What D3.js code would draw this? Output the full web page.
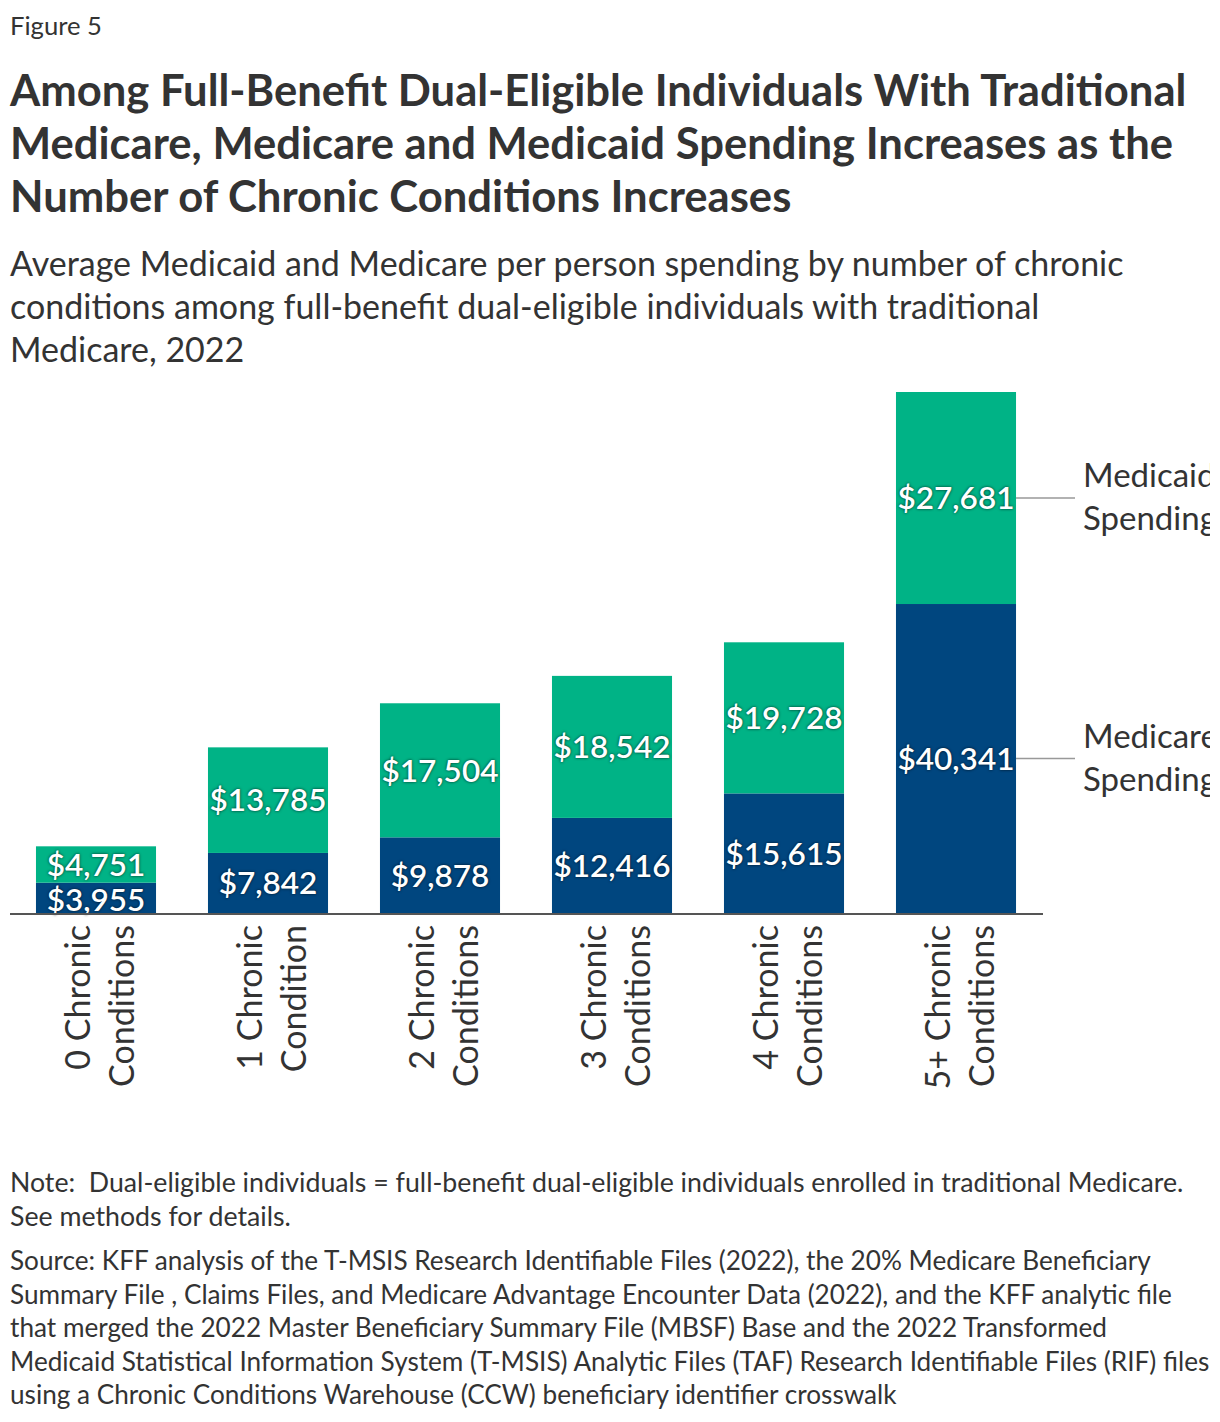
<!DOCTYPE html>
<html>
<head>
<meta charset="utf-8">
<script src="https://cdn.jsdelivr.net/npm/d3@7"></script>
<style>
  body { margin: 0; background: #fff; }
  svg text { font-family: "Source Sans Pro", Lato, "Open Sans", sans-serif; fill: #333; white-space: pre; }
</style>
</head>
<body>
<div id="chart-area"></div>
<script>
// datos del grafico
const categorias = [
  ["0 Chronic", "Conditions"],
  ["1 Chronic", "Condition"],
  ["2 Chronic", "Conditions"],
  ["3 Chronic", "Conditions"],
  ["4 Chronic", "Conditions"],
  ["5+ Chronic", "Conditions"]
]
const medicare = [3955, 7842, 9878, 12416, 15615, 40341]
const medicaid = [4751, 13785, 17504, 18542, 19728, 27681]
const series = ["Medicare Spending", "Medicaid Spending"]

const titulo = [
  "Among Full-Benefit Dual-Eligible Individuals With Traditional",
  "Medicare, Medicare and Medicaid Spending Increases as the",
  "Number of Chronic Conditions Increases"
]
const subtitulo = [
  "Average Medicaid and Medicare per person spending by number of chronic",
  "conditions among full-benefit dual-eligible individuals with traditional",
  "Medicare, 2022"
]
const nota = [
  "Note:  Dual-eligible individuals = full-benefit dual-eligible individuals enrolled in traditional Medicare.",
  "See methods for details."
]
const fuente = [
  "Source: KFF analysis of the T-MSIS Research Identifiable Files (2022), the 20% Medicare Beneficiary",
  "Summary File , Claims Files, and Medicare Advantage Encounter Data (2022), and the KFF analytic file",
  "that merged the 2022 Master Beneficiary Summary File (MBSF) Base and the 2022 Transformed",
  "Medicaid Statistical Information System (T-MSIS) Analytic Files (TAF) Research Identifiable Files (RIF) files",
  "using a Chronic Conditions Warehouse (CCW) beneficiary identifier crosswalk"
]

const width = 1220, height = 1422
const colorMedicare = "#00467f", colorMedicaid = "#00b386"

const root = d3.select("#chart-area").append("svg")
    .attr("width", width)
    .attr("height", height)

// el original corta todo a la derecha
root.append("clipPath").attr("id", "corte")
  .append("rect").attr("x", 0).attr("y", 0).attr("width", 1210).attr("height", height)

const svg = root.append("g").attr("clip-path", "url(#corte)")

// bloque de texto, ajusta el tamaño a un ancho objetivo
function bloque(lines, x, y0, lh, size, weight, refIdx, refWidth) {
  const t = svg.append("g").selectAll("text")
    .data(lines).join("text")
      .attr("x", x)
      .attr("y", (d, i) => y0 + i * lh)
      .attr("font-size", size)
      .attr("font-weight", weight)
      .text(d => d)
  if (refWidth) {
    const w = t.nodes()[refIdx].getComputedTextLength()
    t.attr("font-size", size * refWidth / w)
  }
  return t
}

bloque(["Figure 5"], 10, 35, 0, 24, 400, 0, 92)
bloque(titulo, 10, 106, 53, 38, 700, 0, 1177)
bloque(subtitulo, 10, 276, 43, 30, 400, 0, 1114)
bloque(nota, 10, 1192, 34, 24, 400, 0, 1174)
bloque(fuente, 10, 1270, 33.6, 24, 400, 0, 1141)

// escalas
const baseY = 913
const totales = medicare.map((d, i) => d + medicaid[i])

const x = d3.scaleBand()
    .domain(d3.range(categorias.length))
    .range([10, 1042])
    .paddingInner(0.302)
    .paddingOuter(0.151)

const y = d3.scaleLinear()
    .domain([0, d3.max(totales)])
    .range([baseY, 392])

const datos = medicare.map((d, i) => ({ i: i, medicare: d, medicaid: medicaid[i] }))
const stack = d3.stack().keys(["medicare", "medicaid"])(datos)
const colores = [colorMedicare, colorMedicaid]

const barras = svg.append("g")
stack.forEach((capa, k) => {
  barras.append("g")
      .attr("fill", colores[k])
    .selectAll("rect")
    .data(capa)
    .join("rect")
      .attr("x", d => x(d.data.i))
      .attr("y", d => y(d[1]))
      .attr("width", x.bandwidth())
      .attr("height", d => y(d[0]) - y(d[1]))
})

// etiquetas de valor
const fmt = d3.format("$,")
stack.forEach((capa, k) => {
  svg.append("g").selectAll("text")
    .data(capa)
    .join("text")
      .attr("x", d => x(d.data.i) + x.bandwidth() / 2)
      .attr("y", d => (y(d[0]) + y(d[1])) / 2 + (k == 0 && d.data.i == 0 ? 2 : 0))
      .attr("dy", "0.36em")
      .attr("text-anchor", "middle")
      .attr("font-size", 31.5)
      .attr("font-weight", 600)
      .style("fill", "#fff")
      .style("text-shadow", "0 0 3px rgba(0,0,0,0.75)")
      .text(d => fmt(d[1] - d[0]))
})

// eje
svg.append("line")
    .attr("x1", 10).attr("x2", 1043)
    .attr("y1", baseY + 1).attr("y2", baseY + 1)
    .attr("stroke", "#555")
    .attr("stroke-width", 2)

const etiquetas = svg.append("g").selectAll("text")
  .data(categorias)
  .join("text")
    .attr("transform", (d, i) => "translate(" + (x(i) + x.bandwidth() / 2) + "," + (baseY + 12) + ") rotate(-90)")
    .attr("text-anchor", "end")
    .attr("font-size", 29)

etiquetas.selectAll("tspan")
  .data(d => d)
  .join("tspan")
    .attr("x", 0)
    .attr("y", (d, j) => -6 + j * 44)
    .text(d => d)

// "Conditions" mide unos 162px en el original
const wCond = etiquetas.nodes()[0].childNodes[1].getComputedTextLength()
etiquetas.attr("font-size", 29 * 162 / wCond)

// leyenda a la derecha
const last = stack[0].length - 1
const leyenda = svg.append("g")
stack.forEach((capa, k) => {
  const d = capa[last]
  const cy = (y(d[0]) + y(d[1])) / 2
  leyenda.append("line")
      .attr("x1", x(last) + x.bandwidth()).attr("x2", 1075)
      .attr("y1", cy).attr("y2", cy)
      .attr("stroke", "#999")
      .attr("stroke-width", 1.5)
  const partes = series[k].split(" ")
  leyenda.append("text")
      .attr("font-size", 33)
    .selectAll("tspan")
    .data(partes)
    .join("tspan")
      .attr("x", 1083)
      .attr("y", (p, j) => cy - 11 + j * 43)
      .text(p => p)
})
</script>
</body>
</html>
